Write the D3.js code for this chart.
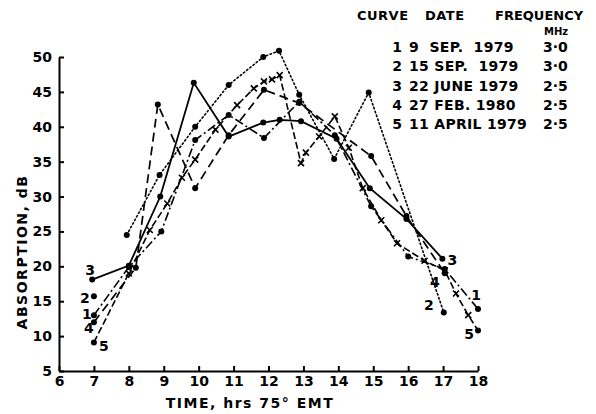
<!DOCTYPE html>
<html>
<head>
<meta charset="utf-8">
<script src="https://cdn.jsdelivr.net/npm/d3@7"></script>
<style>
  body { margin: 0; background: #fff; }
  text { font-family: "DejaVu Sans", sans-serif; font-weight: bold; fill: #000; }
</style>
</head>
<body>
<div id="chart"></div>
<script>
// readings: [hour, absorption dB]
var curve1 = [[7,13.0],[8,19.9],[8.93,25],[9.9,38.1],[10.86,41.7],[11.87,38.4],[12.88,43.6],[13.9,38.8],[14.94,28.6],[16,21.4],[17.05,19.6],[18,13.9]];
var curve2 = [[7,15.7],[7.94,24.5],[8.88,33.1],[9.9,40.0],[10.86,46.0],[11.85,50.0],[12.3,50.9],[12.88,44.6],[13.88,35.4],[14.87,44.9],[17.02,13.4]];
var curve3 = [[6.95,18.1],[8,20.1],[8.9,30],[9.86,46.3],[10.86,38.6],[11.85,40.6],[12.32,41],[12.93,40.8],[13.95,38.3],[14.9,31.2],[15.95,26.8],[16.98,21.1]];
var curve4 = [[7,12.0],[8.2,19.8],[8.83,43.2],[9.9,31.2],[10.86,38.8],[11.87,45.3],[12.88,43.4],[14.94,35.8],[15.95,27.2],[17.05,19.0]];
var curve5 = [[7,9.1],[8,19],[8.6,25.2],[9.1,29],[9.52,32.7],[9.9,35.3],[10.48,39.6],[11.1,43.1],[11.58,45.5],[11.87,46.5],[12.1,46.8],[12.32,47.4],[12.93,34.8],[13.07,36.3],[13.45,38.6],[13.9,41.5],[14.3,37],[14.7,31.2],[15.23,26.6],[15.68,23.3],[16.47,20.8],[17.05,19.4],[17.37,16.1],[17.72,13],[18,10.8]];

// legend table
var legendCurves = ["1", "2", "3", "4", "5"];
var legendDates = ["9  SEP.  1979", "15 SEP.  1979", "22 JUNE 1979", "27 FEB. 1980", "11 APRIL 1979"];
var legendFreqs = ["3·0", "3·0", "2·5", "2·5", "2·5"];

var xTicks = [6, 7, 8, 9, 10, 11, 12, 13, 14, 15, 16, 17, 18];
var yTicks = [5, 10, 15, 20, 25, 30, 35, 40, 45, 50];

var width = 596, height = 414;

var svg = d3.select("#chart")
  .append("svg")
  .attr("width", width)
  .attr("height", height);

var x = d3.scaleLinear().domain([6, 18]).range([59, 478]);
var y = d3.scaleLinear().domain([5, 50]).range([371, 57]);

// axes, ticks pointing inward
var xAxis = svg.append("g")
  .attr("transform", "translate(0," + y(5) + ")")
  .call(d3.axisBottom(x).tickValues(xTicks).tickFormat(d3.format("d"))
    .tickSize(-5).tickSizeOuter(0).tickPadding(5));
var yAxis = svg.append("g")
  .attr("transform", "translate(" + x(6) + ",0)")
  .call(d3.axisLeft(y).tickValues(yTicks).tickFormat(d3.format("d"))
    .tickSize(-5).tickSizeOuter(0).tickPadding(7));
[xAxis, yAxis].forEach(function(g) {
  g.select(".domain").attr("stroke", "#000").attr("stroke-width", 2);
  g.selectAll(".tick line").attr("stroke", "#000").attr("stroke-width", 2);
  g.selectAll(".tick text").style("font-size", "14px").style("font-family", "'DejaVu Sans', sans-serif")
    .style("font-weight", "bold");
});

svg.append("text")
  .attr("transform", "translate(27,252) rotate(-90)")
  .attr("text-anchor", "middle")
  .style("font-size", "14px")
  .style("letter-spacing", "1.5px")
  .text("ABSORPTION, dB");

svg.append("text")
  .attr("x", 250).attr("y", 408)
  .attr("text-anchor", "middle")
  .style("font-size", "14px")
  .style("letter-spacing", "1.5px")
  .text("TIME, hrs 75° EMT");

// curves
var series = [
  {id: "1", data: curve1, dash: "9,3,2,3", width: 1.6, marker: "dot", start: [-7, 4], end: [-2, -9]},
  {id: "2", data: curve2, dash: "1.5,2.6", width: 1.6, marker: "dot", start: [-9, 7], end: [-15, -2]},
  {id: "3", data: curve3, dash: null, width: 1.8, marker: "dot", start: [-2, -5], end: [10, 6]},
  {id: "4", data: curve4, dash: "9,5", width: 1.7, marker: "dot", start: [-5, 11], end: [-10, 14]},
  {id: "5", data: curve5, dash: "7,3", width: 1.6, marker: "cross", start: [10, 9], end: [-9, 8]}
];

var line = d3.line().x(function(d) { return x(d[0]); }).y(function(d) { return y(d[1]); });

series.forEach(function(s) {
  // curve 2: the 07 h reading stands on its own
  var path = s.id === "2" ? s.data.slice(1) : s.data;
  svg.append("path")
    .datum(path)
    .attr("d", line)
    .attr("fill", "none")
    .attr("stroke", "#000")
    .attr("stroke-width", s.width)
    .attr("stroke-linecap", s.id === "2" ? "round" : "butt")
    .attr("stroke-dasharray", s.dash);

  var n = s.data.length;
  s.data.forEach(function(d, i) {
    if (s.marker === "cross" && i > 0 && i < n - 1) {
      svg.append("path")
        .attr("d", "M-3,-3L3,3M-3,3L3,-3")
        .attr("transform", "translate(" + x(d[0]) + "," + y(d[1]) + ")")
        .attr("stroke", "#000").attr("stroke-width", 1.6);
    } else {
      svg.append("circle")
        .attr("cx", x(d[0])).attr("cy", y(d[1]))
        .attr("r", 3).attr("fill", "#000");
    }
  });

  var first = s.data[0], last = s.data[n - 1];
  svg.append("text")
    .attr("x", x(first[0]) + s.start[0]).attr("y", y(first[1]) + s.start[1])
    .attr("text-anchor", "middle").style("font-size", "14px").text(s.id);
  svg.append("text")
    .attr("x", x(last[0]) + s.end[0]).attr("y", y(last[1]) + s.end[1])
    .attr("text-anchor", "middle").style("font-size", "14px").text(s.id);
});

// legend
var legend = svg.append("g");
legend.append("text").attr("x", 357).attr("y", 20).style("font-size", "13px").style("letter-spacing", "0.5px").text("CURVE");
legend.append("text").attr("x", 425).attr("y", 20).style("font-size", "13px").style("letter-spacing", "0.5px").text("DATE");
legend.append("text").attr("x", 495).attr("y", 20).style("font-size", "13px").text("FREQUENCY");
legend.append("text").attr("x", 544).attr("y", 35).style("font-size", "10px").text("MHz");

var rowY = d3.scalePoint().domain(legendCurves).range([52, 129]);
legendCurves.forEach(function(c, i) {
  legend.append("text").attr("x", 397).attr("y", rowY(c))
    .attr("text-anchor", "middle").style("font-size", "14px").text(c);
  legend.append("text").attr("x", 409).attr("y", rowY(c))
    .attr("xml:space", "preserve").style("white-space", "pre")
    .style("font-size", "14px").style("letter-spacing", "0.3px").text(legendDates[i]);
  legend.append("text").attr("x", 543).attr("y", rowY(c))
    .style("font-size", "14px").text(legendFreqs[i]);
});
</script>
</body>
</html>
